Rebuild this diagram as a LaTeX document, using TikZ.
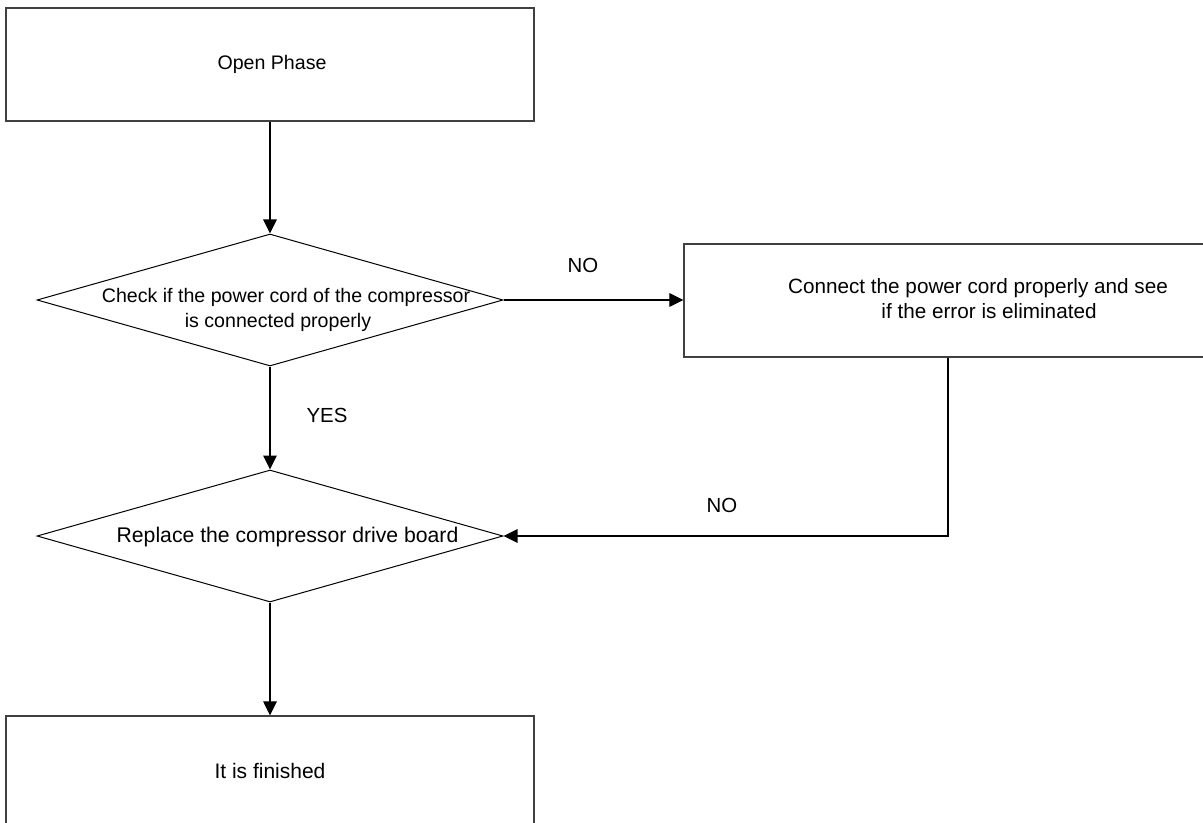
\documentclass[tikz,border=0pt]{standalone}
\usepackage{fontspec}
\setmainfont{Liberation Sans}
\usetikzlibrary{shapes.geometric,arrows.meta}

\begin{document}
\begin{tikzpicture}[
  x=0.5pt, y=-0.5pt,
  procbox/.style={draw=black!75, line width=0.65pt, inner sep=0pt,
                  minimum width=#1, minimum height=56.5pt},
  procbox/.default=264pt,
  decision/.style={diamond, draw=black, line width=0.5pt, inner sep=0pt,
                   minimum width=233pt, minimum height=66pt},
  lbl/.style={anchor=base, inner sep=0pt, font=\fontsize{#1}{12.5pt}\selectfont},
  lbl/.default=9.8pt,
  flow/.style={draw=black, line width=0.55pt, -{Triangle[length=7pt,width=6.8pt]}}
]
\useasboundingbox (0,0) rectangle (1203,823);
\clip (0,0) rectangle (1203,823);

% shapes
\node[procbox] (start) at (270,64.5) {};
\node[decision] (q1) at (270,300) {};
\node[procbox=308pt] (fix) at (992,300.5) {};
\node[decision] (q2) at (270,536) {};
\node[procbox] (done) at (270,772.5) {};

% texts
\node[lbl] (tstart) at (272,70) {Open Phase};
\node[lbl] (tq1a) at (286,303) {Check if the power cord of the compressor};
\node[lbl] (tq1b) at (278,328) {is connected properly};
\node[lbl=10.35pt] (tfixa) at (978,293) {Connect the power cord properly and see};
\node[lbl=10.35pt] (tfixb) at (989,318.5) {if the error is eliminated};
\node[lbl=10.6pt] (tq2) at (287.5,542) {Replace the compressor drive board};
\node[lbl=10.5pt] (tdone) at (270,778) {It is finished};

% edge labels
\node[lbl=10.2pt] (no1) at (583,273) {NO};
\node[lbl=10.2pt] (yes) at (327,422) {YES};
\node[lbl=10.2pt] (no2) at (722,512) {NO};

% connectors
\draw[flow] (start.south) -- (q1.north);
\draw[flow] (q1.east) -- (q1.east -| fix.west);
\draw[flow] (q1.south) -- (q2.north);
\draw[flow] ([xshift=-22pt]fix.south) |- (q2.east);
\draw[flow] (q2.south) -- (done.north);
\end{tikzpicture}
\end{document}
